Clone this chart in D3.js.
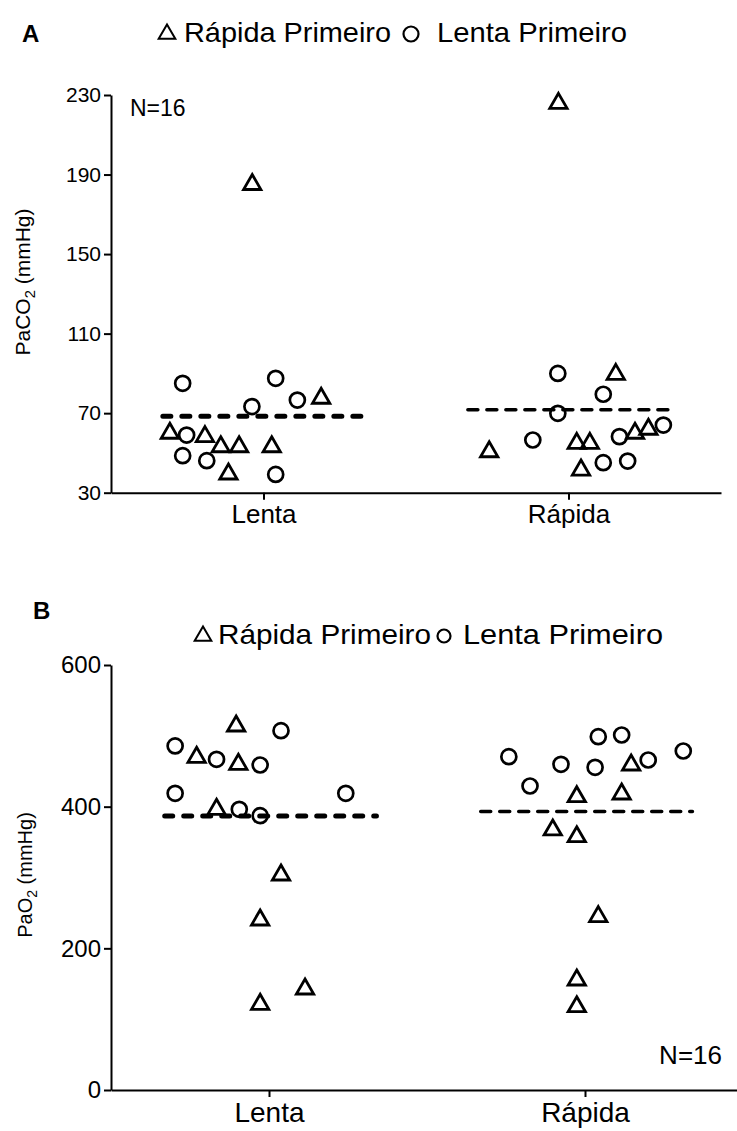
<!DOCTYPE html>
<html>
<head>
<meta charset="utf-8">
<script src="https://cdn.jsdelivr.net/npm/d3@7"></script>
<style>
  body { margin: 0; background: #fff; }
  text { font-family: "Liberation Sans", Arial, sans-serif; fill: #000; }
</style>
</head>
<body>
<svg id="chart" width="737" height="1131"></svg>
<script>
// categories and tick values
const categories = ["Lenta", "Rápida"];
const groups = ["Rápida Primeiro", "Lenta Primeiro"];
const paco2Ticks = [30, 70, 110, 150, 190, 230];
const pao2Ticks = [0, 200, 400, 600];

// [value, jitter] -- jitter is the horizontal spread in category units
// PaCO2 (panel A)
const paco2LentaTri = [[185, -0.037], [77.5, 0.189], [59.9, -0.307], [58.2, -0.192], [53.1, -0.140], [53.1, -0.080], [53.1, 0.027], [39.4, -0.115]];
const paco2LentaCirc = [[85, -0.265], [87.5, 0.040], [76.6, 0.111], [73.3, -0.038], [59, -0.252], [48.6, -0.265], [46.1, -0.186], [39.2, 0.040]];
const paco2RapidaTri = [[225.8, -0.033], [89.5, 0.155], [61.9, 0.262], [59.9, 0.218], [54.8, 0.027], [54.8, 0.070], [50.6, -0.260], [41.4, 0.041]];
const paco2RapidaCirc = [[90, -0.035], [79.5, 0.114], [69.9, -0.035], [64, 0.311], [58.2, 0.167], [56.5, -0.117], [45.1, 0.114], [45.9, 0.194]];

// PaO2 (panel B)
const pao2LentaTri = [[513.9, -0.104], [469.7, -0.229], [459.8, -0.097], [396.3, -0.166], [303.5, 0.038], [240, -0.028], [142.6, 0.114], [121, -0.028]];
const pao2LentaCirc = [[507.3, 0.038], [485.7, -0.297], [466.9, -0.166], [458.8, -0.028], [418.9, -0.297], [418.9, 0.243], [396.3, -0.094], [387.3, -0.028]];
const pao2RapidaTri = [[458.8, 0.146], [414.1, -0.026], [417.9, 0.116], [367.1, -0.102], [357.6, -0.026], [244.7, 0.042], [155.3, -0.026], [117.6, -0.026]];
const pao2RapidaCirc = [[498.8, 0.042], [501.2, 0.116], [478.6, 0.311], [470.6, -0.241], [465.9, 0.200], [459.8, -0.076], [455.6, 0.032], [429.2, -0.174]];

const svg = d3.select("#chart");

function drawPanel(o) {
  const g = svg.append("g").attr("transform", "translate(" + o.left + ",0)");
  const x = d3.scaleLinear().domain([-0.5, 1.5]).range([0, o.width]);
  const y = d3.scaleLinear().domain(o.yDomain).range([o.bottom, o.top]);

  // y axis
  const ya = g.append("g")
    .call(d3.axisLeft(y).tickValues(o.ticks).tickSize(7).tickSizeOuter(0).tickPadding(3));
  ya.selectAll("path, line").attr("stroke", "#000").attr("stroke-width", 2);
  ya.selectAll("text").style("font-size", o.tickFont + "px").attr("fill", "#000");

  // x axis
  const xa = g.append("g").attr("transform", "translate(0," + o.bottom + ")")
    .call(d3.axisBottom(x).tickValues([0, 1]).tickFormat(i => categories[i]).tickSize(7).tickSizeOuter(0).tickPadding(5));
  xa.selectAll("path, line").attr("stroke", "#000").attr("stroke-width", 2);
  xa.selectAll("text").style("font-size", o.catFont + "px").attr("fill", "#000");

  // y label
  const lab = g.append("text")
    .attr("transform", "translate(" + (o.labelX - o.left) + "," + o.labelY + ") rotate(-90)")
    .attr("text-anchor", "middle")
    .style("font-size", o.labelFont + "px");
  lab.append("tspan").text(o.label[0]);
  lab.append("tspan").text(o.label[1]).attr("dy", 5).style("font-size", (o.labelFont * 0.7) + "px");
  lab.append("tspan").text(o.label[2]).attr("dy", -5);

  const sets = [
    { cat: 0, tri: o.data[0], circ: o.data[1] },
    { cat: 1, tri: o.data[2], circ: o.data[3] }
  ];

  sets.forEach(s => {
    // mean dashed line
    const all = s.tri.concat(s.circ);
    const m = d3.mean(all, d => d[0]);
    const lw = s.cat === 0 ? o.meanW[0] : o.meanW[1];
    g.append("line")
      .attr("x1", x(s.cat - 0.33)).attr("x2", x(s.cat + 0.34))
      .attr("y1", y(m)).attr("y2", y(m))
      .attr("stroke", "#000").attr("stroke-width", lw)
      .attr("stroke-linecap", "round")
      .attr("stroke-dasharray", s.cat === 0 ? "8,11" : "10,9");

    g.selectAll(null).data(s.circ).enter().append("circle")
      .attr("cx", d => x(s.cat + d[1]))
      .attr("cy", d => y(d[0]))
      .attr("r", 7.5)
      .attr("fill", "none").attr("stroke", "#000").attr("stroke-width", 2.7);

    g.selectAll(null).data(s.tri).enter().append("path")
      .attr("d", d3.symbol(d3.symbolTriangle, 130))
      .attr("transform", d => "translate(" + x(s.cat + d[1]) + "," + y(d[0]) + ")")
      .attr("fill", "none").attr("stroke", "#000").attr("stroke-width", 2.8)
      .attr("stroke-linejoin", "miter");
  });

  // N=16
  g.append("text").attr("x", o.nPos[0] - o.left).attr("y", o.nPos[1])
    .attr("text-anchor", o.nAnchor)
    .style("font-size", o.nFont + "px").text("N=16");

  // panel letter
  svg.append("text").attr("x", o.letterPos[0]).attr("y", o.letterPos[1])
    .style("font-size", "24px").style("font-weight", "bold").text(o.letter);

  // legend
  const lg = svg.append("g");
  const ly = o.legend.y;
  lg.append("path")
    .attr("d", d3.symbol(d3.symbolTriangle, 120))
    .attr("transform", "translate(" + o.legend.tri + "," + (ly - 8) + ")")
    .attr("fill", "none").attr("stroke", "#000").attr("stroke-width", 2);
  lg.append("text").attr("x", o.legend.t1[0]).attr("y", ly)
    .attr("textLength", o.legend.t1[1]).attr("lengthAdjust", "spacingAndGlyphs")
    .style("font-size", o.legend.font + "px").text(groups[0]);
  lg.append("circle").attr("cx", o.legend.circ).attr("cy", ly - 8).attr("r", o.legend.r)
    .attr("fill", "none").attr("stroke", "#000").attr("stroke-width", 2.2);
  lg.append("text").attr("x", o.legend.t2[0]).attr("y", ly)
    .attr("textLength", o.legend.t2[1]).attr("lengthAdjust", "spacingAndGlyphs")
    .style("font-size", o.legend.font + "px").text(groups[1]);
}

drawPanel({
  left: 111, width: 610, top: 95, bottom: 492.7,
  yDomain: [30, 230], ticks: paco2Ticks,
  tickFont: 21, catFont: 26, labelFont: 21, labelX: 30, labelY: 282,
  label: ["PaCO", "2", " (mmHg)"],
  data: [paco2LentaTri, paco2LentaCirc, paco2RapidaTri, paco2RapidaCirc],
  meanW: [5, 3.5],
  nPos: [130, 116], nAnchor: "start", nFont: 23,
  letter: "A", letterPos: [22, 42],
  legend: { y: 42, font: 28, tri: 167, t1: [184, 207], circ: 411, r: 7.5, t2: [437, 190] }
});

drawPanel({
  left: 111, width: 632, top: 665, bottom: 1090,
  yDomain: [0, 600], ticks: pao2Ticks,
  tickFont: 24, catFont: 28, labelFont: 20, labelX: 32, labelY: 875,
  label: ["PaO", "2", " (mmHg)"],
  data: [pao2LentaTri, pao2LentaCirc, pao2RapidaTri, pao2RapidaCirc],
  meanW: [5, 3.5],
  nPos: [722, 1064], nAnchor: "end", nFont: 26,
  letter: "B", letterPos: [33, 619],
  legend: { y: 644, font: 28, tri: 203, t1: [218, 213], circ: 444, r: 6.5, t2: [463, 200] }
});
</script>
</body>
</html>
